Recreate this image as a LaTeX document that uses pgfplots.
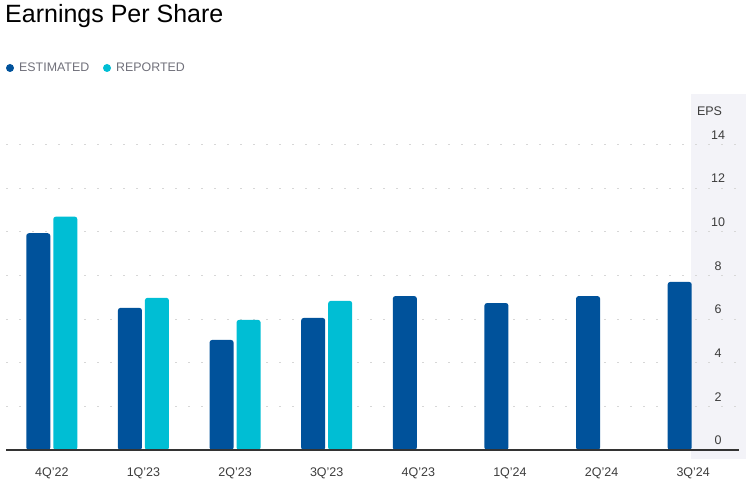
\documentclass[border=0pt]{standalone}
\usepackage{pgfplots}
\pgfplotsset{compat=1.18}
\usepackage{fontspec}
\setmainfont{Liberation Sans}

\definecolor{estblue}{RGB}{0,82,155}
\definecolor{repcyan}{RGB}{0,190,212}
\definecolor{panel}{RGB}{243,243,248}
\definecolor{legtext}{RGB}{112,112,122}
\definecolor{ticktext}{RGB}{60,60,60}
\definecolor{gridc}{RGB}{215,215,215}

\begin{document}
\begin{tikzpicture}[x=1pt,y=1pt]
\useasboundingbox (0,0) rectangle (754,488);
% shaded panel behind y tick labels
\fill[panel] (691,29) rectangle (746,394);

% title + legend
\node[anchor=base west,inner sep=0pt] at (5,465) {\fontsize{25}{28}\selectfont Earnings Per Share};
\fill[estblue] (10,420) circle (4);
\node[anchor=base west,inner sep=0pt,text=legtext] at (19,416) {\fontsize{12.4}{14}\selectfont ESTIMATED};
\fill[repcyan] (107,420) circle (4);
\node[anchor=base west,inner sep=0pt,text=legtext] at (116,416) {\fontsize{12.4}{14}\selectfont REPORTED};
\node[text=ticktext] at (709.5,377) {\fontsize{12.5}{14}\selectfont EPS};

\begin{axis}[
    at={(6pt,38pt)}, anchor=south west,
    scale only axis,
    width=733pt, height=305.6pt,
    xmin=-0.5, xmax=7.5,
    ymin=0, ymax=14,
    ybar, bar width=24pt,
    axis line style={draw=none},
    major tick length=0pt,
    xtick={0,...,7},
    xticklabels={4Q'22,1Q'23,2Q'23,3Q'23,4Q'23,1Q'24,2Q'24,3Q'24},
    xticklabel style={anchor=center, yshift=-23pt, text=ticktext, font=\fontsize{12.5}{14}\selectfont},
    ytick={0,2,...,14},
    yticklabel pos=right,
    yticklabel style={anchor=center, xshift=-21pt, yshift=9.5pt, text=ticktext, font=\fontsize{12.5}{14}\selectfont},
    /pgf/number format/assume math mode=true,
    ymajorgrids=true,
    grid style={gridc, line width=0.9pt, dash pattern=on 2pt off 11pt},
    clip=false,
]
\addplot[fill=estblue, draw=none, bar shift=-13.5pt, rounded corners=2.5pt]
    coordinates {(0,9.93) (1,6.51) (2,5.04) (3,6.05) (4,7.05) (5,6.73) (6,7.05) (7,7.7)};
\addplot[fill=repcyan, draw=none, bar shift=13.5pt, rounded corners=2.5pt]
    coordinates {(0,10.69) (1,6.97) (2,5.96) (3,6.83)};
\draw[black!80, line width=1.3pt] (axis cs:-0.5,0) -- (axis cs:7.5,0);
\end{axis}
\end{tikzpicture}
\end{document}
